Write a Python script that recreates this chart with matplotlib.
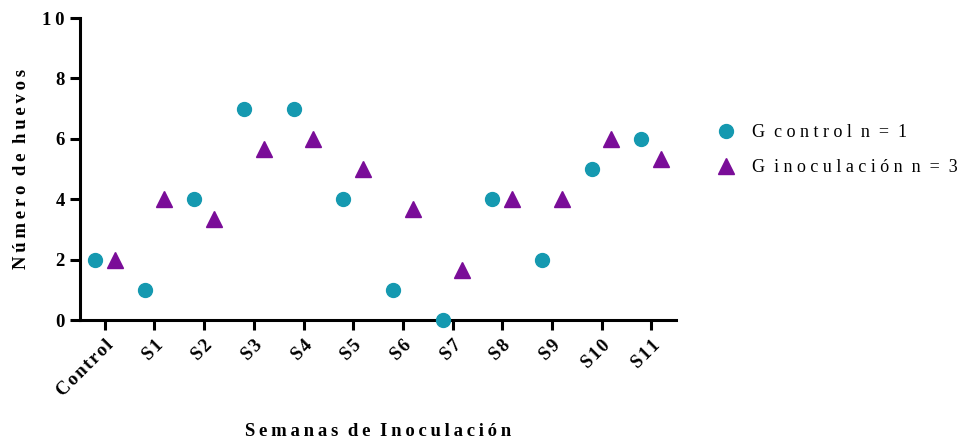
import numpy as np
import matplotlib
matplotlib.use("Agg")
import matplotlib.pyplot as plt
from matplotlib.lines import Line2D

plt.rcParams['font.family'] = ['Liberation Serif', 'DejaVu Serif']

# weeks after inoculation
semanas = ["Control", "S1", "S2", "S3", "S4", "S5", "S6", "S7", "S8", "S9", "S10", "S11"]
# egg counts per group
control = [2, 1, 4, 7, 7, 4, 1, 0, 4, 2, 5, 6]
inoculacion = [2, 4, 3.33, 5.67, 6, 5, 3.67, 1.67, 4, 4, 6, 5.33]

c_control = "#1599b0"
c_inoc = "#7a0d98"


def espaciado(s, sep="\u2009"):
    # Prism-like letter spacing
    return sep.join(s)


fig = plt.figure(figsize=(9.73, 4.42), dpi=100)
ax = fig.add_axes([0.0822, 0.276, 0.6126, 0.683])

x = np.arange(len(semanas))
ax.plot(x - 0.2, control, 'o', color=c_control, markersize=10, clip_on=False, zorder=5)
ax.plot(x + 0.2, inoculacion, '^', color=c_inoc, markersize=11.5, clip_on=False, zorder=5)

ax.set_xlim(-0.5, 11.5)
ax.set_ylim(0, 10)
ax.set_yticks([0, 2, 4, 6, 8, 10])
ax.set_yticklabels([espaciado(str(v)) for v in [0, 2, 4, 6, 8, 10]],
                   fontsize=13.5, fontweight='bold')
ax.set_xticks(x)
ax.set_xticklabels([espaciado(s, "\u200a") for s in semanas], rotation=45, ha='right',
                   rotation_mode='anchor', fontsize=13.5, fontweight='bold')

for side in ['top', 'right']:
    ax.spines[side].set_visible(False)
for side in ['left', 'bottom']:
    ax.spines[side].set_linewidth(2.2)
ax.tick_params(axis='both', width=2.2, length=7, direction='out', pad=4)
ax.tick_params(axis='x', pad=5)

ax.set_ylabel(espaciado("Número") + "  " + espaciado("de") + "  " + espaciado("huevos"),
              fontsize=13.5, fontweight='bold', labelpad=9)
ax.set_xlabel(espaciado("Semanas") + "  " + espaciado("de") + "  " + espaciado("Inoculación"),
              fontsize=13.5, fontweight='bold', labelpad=17)

handles = [
    Line2D([], [], marker='o', color=c_control, linestyle='none', markersize=10),
    Line2D([], [], marker='^', color=c_inoc, linestyle='none', markersize=11.5),
]
labels = ["G  c o n t r o l  n  =  1", "G  i n o c u l a c i ó n  n  =  3"]
leg = fig.legend(handles, labels, loc='upper left', bbox_to_anchor=(0.728, 0.74),
                 frameon=False, fontsize=13, handletextpad=0.9, labelspacing=1.0,
                 borderpad=0, handlelength=1.0)

fig.savefig("out.png", dpi=100)
